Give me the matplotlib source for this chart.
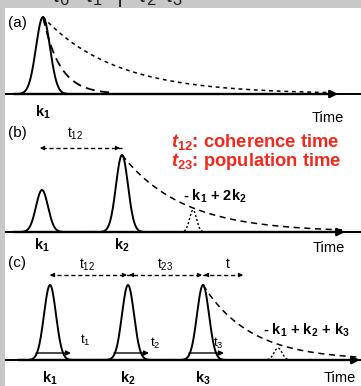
import numpy as np
import matplotlib.pyplot as plt

plt.rcParams['font.family'] = ['Liberation Sans', 'DejaVu Sans']
plt.rcParams['mathtext.fontset'] = 'custom'
plt.rcParams['mathtext.rm'] = 'Liberation Sans'
plt.rcParams['mathtext.it'] = 'Liberation Sans:italic:bold'
plt.rcParams['mathtext.bf'] = 'Liberation Sans:bold'

# everything is laid out in image units (x = time, y = row, baseline per panel)
panel_labels = ['(a)', '(b)', '(c)']
baselines = [94, 232, 360]
axis_start = [14, 13, 18]

# (a) single pulse, two decays (dashed, dotted)
a_center = 43
a_height = 77
a_sigma = 7
a_decays = [17, 72]

# (b) two pulses and the decay after k2
b_centers = [42, 122]
b_heights = [42, 77]
b_sigma = 6
b_decay = 61
b_echo_center = 193
b_echo_height = 22

# (c) three pulses, decay after k3
c_centers = [50, 128, 203]
c_height = 75
c_sigma = 6
c_decay = 48
c_echo_center = 278
c_echo_height = 12
c_time_marks = ['t$_1$', 't$_2$', 't$_3$']

k_labels = [r'$\mathbf{k_1}$', r'$\mathbf{k_2}$', r'$\mathbf{k_3}$']

fig = plt.figure(figsize=(3.61, 3.86), dpi=100)
fig.patch.set_facecolor('#c8c8c8')
ax = fig.add_axes([5 / 361, 0, 356 / 361, 378 / 386])
ax.set_facecolor('white')
ax.set_xlim(5, 361)
ax.set_ylim(386, 8)
for s in ax.spines.values():
    s.set_visible(False)
ax.set_xticks([])
ax.set_yticks([])

# cut-off caption strip at the top (only the lower edge of it is visible)
fig.text(50 / 361, 1 - 2 / 386, r'$\mathrm{\tau_6\ \ \tau_1\ \ |\ \ \tau_2\ \tau_3}$',
         fontsize=17, va='baseline', ha='left', color='#222222')

x = np.linspace(5, 361, 1500)


def gauss(c, h, s):
    return h * np.exp(-0.5 * ((x - c) / s) ** 2)


def decay(c, h, tau, end=361):
    xs = np.linspace(c, end, 400)
    return xs, h * np.exp(-(xs - c) / tau)


def time_axis(y0, x0, x1):
    ax.annotate('', xy=(x1, y0), xytext=(x0, y0),
                arrowprops=dict(arrowstyle='-|>', lw=1.7, color='black',
                                mutation_scale=11, shrinkA=0, shrinkB=0))


def head(xt, y, direction):
    ax.annotate('', xy=(xt, y), xytext=(xt - 3 * direction, y),
                arrowprops=dict(arrowstyle='-|>', lw=0.8, color='black',
                                mutation_scale=6, shrinkA=0, shrinkB=0))


# ---- (a)
y0 = baselines[0]
time_axis(y0, axis_start[0], 338)
ax.plot(x, y0 - gauss(a_center, a_height, a_sigma), color='black', lw=1.4)
xs, ys = decay(a_center, a_height, a_decays[0], 110)
ax.plot(xs, y0 - ys, color='black', lw=1.3, dashes=(5, 3))
xs, ys = decay(a_center, a_height, a_decays[1], 335)
ax.plot(xs, y0 - ys, color='black', lw=1.1, dashes=(2.5, 2.5))
ax.text(a_center, 112, k_labels[0], ha='center', va='center', fontsize=10.5)
ax.text(328, 118, 'Time', ha='center', va='center', fontsize=10.5)

# ---- (b)
y0 = baselines[1]
time_axis(y0, axis_start[1], 345)
for c, h, lab in zip(b_centers, b_heights, k_labels):
    ax.plot(x, y0 - gauss(c, h, b_sigma), color='black', lw=1.4)
    ax.text(c, 245, lab, ha='center', va='center', fontsize=10.5)
xs, ys = decay(b_centers[1], b_heights[1], b_decay, 342)
ax.plot(xs, y0 - ys, color='black', lw=1.1, dashes=(4, 3))
ax.plot(x, y0 - gauss(b_echo_center, b_echo_height, 3.5), color='black',
        lw=1.0, dashes=(1.5, 1.5))
ax.plot([b_centers[0], b_centers[1]], [148, 148], color='black', lw=1.0, dashes=(3, 2))
head(b_centers[0] - 2, 148, -1)
head(b_centers[1] - 2, 148, 1)
ax.text(75, 134, r'$\mathrm{t_{12}}$', ha='center', va='center', fontsize=10)
ax.text(183, 196, r'- k$_{\mathbf{1}}$ + 2k$_{\mathbf{2}}$', ha='left',
        va='center', fontsize=10.5, fontweight='bold')
ax.text(329, 248, 'Time', ha='center', va='center', fontsize=10.5)
ax.text(171, 142, r'$t_{\mathbf{12}}$: coherence time', ha='left', va='center',
        fontsize=13.2, fontweight='bold', color='#f2281c')
ax.text(171, 162, r'$t_{\mathbf{23}}$: population time', ha='left', va='center',
        fontsize=13.2, fontweight='bold', color='#f2281c')

# ---- (c)
y0 = baselines[2]
time_axis(y0, axis_start[2], 360)
for c, lab, tm in zip(c_centers, k_labels, c_time_marks):
    ax.plot(x, y0 - gauss(c, c_height, c_sigma), color='black', lw=1.4)
    ax.text(c, 378, lab, ha='center', va='center', fontsize=10.5)
    ax.annotate('', xy=(c + 21, 353), xytext=(c - 14, 353),
                arrowprops=dict(arrowstyle='-|>', lw=1.0, color='black',
                                mutation_scale=7, shrinkA=0, shrinkB=0))
for c, tm, dx, ty in zip(c_centers, c_time_marks, [35, 27, 15], [340, 343, 343]):
    ax.text(c + dx, ty, tm, ha='center', va='center', fontsize=9.5)
xs, ys = decay(c_centers[2], c_height, c_decay, 358)
ax.plot(xs, y0 - ys, color='black', lw=1.1, dashes=(4, 3))
ax.plot(x, y0 - gauss(c_echo_center, c_echo_height, 4), color='black',
        lw=1.0, dashes=(1.5, 1.5))
ax.plot([c_centers[0], 243], [275, 275], color='black', lw=1.0, dashes=(3, 2))
head(c_centers[0], 275, -1)
head(c_centers[1] - 1, 275, 1)
head(c_centers[1] + 1, 275, -1)
head(c_centers[2] - 1, 275, 1)
head(c_centers[2] + 1, 275, -1)
head(243, 275, 1)
ax.text(87, 265, r'$\mathrm{t_{12}}$', ha='center', va='center', fontsize=10)
ax.text(165, 265, r'$\mathrm{t_{23}}$', ha='center', va='center', fontsize=10)
ax.text(228, 264, 't', ha='center', va='center', fontsize=10)
ax.text(263, 330, r'- k$_{\mathbf{1}}$ + k$_{\mathbf{2}}$ + k$_{\mathbf{3}}$',
        ha='left', va='center', fontsize=10.5, fontweight='bold')
ax.text(340, 378, 'Time', ha='center', va='center', fontsize=10.5)

for lab, y in zip(panel_labels, [23, 133, 263]):
    ax.text(8, y, lab, ha='left', va='center', fontsize=11)

fig.savefig('out.png', dpi=100, facecolor=fig.get_facecolor())
